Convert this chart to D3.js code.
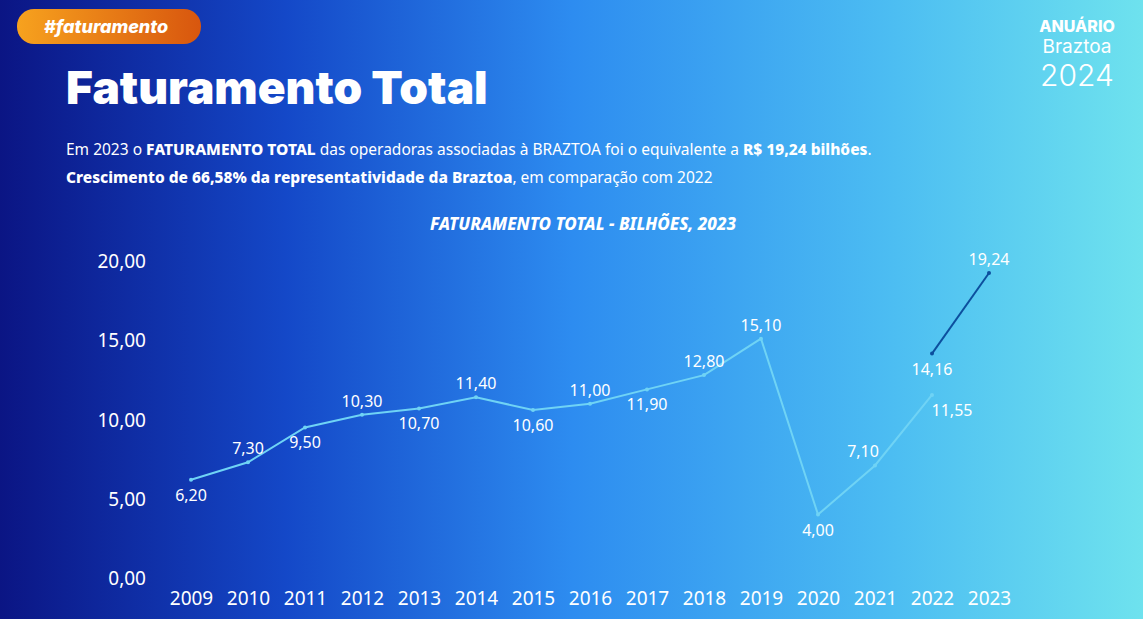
<!DOCTYPE html>
<html><head><meta charset="utf-8">
<script src="https://cdn.jsdelivr.net/npm/d3@7"></script>
<style>body{margin:0;overflow:hidden}svg{display:block}</style>
</head><body><svg id="c" width="1143" height="619"></svg>
<script>
const years = ["2009","2010","2011","2012","2013","2014","2015","2016","2017","2018","2019","2020","2021","2022","2023"];
const seriesA = [6.20,7.30,9.50,10.30,10.70,11.40,10.60,11.00,11.90,12.80,15.10,4.00,7.10,11.55];
const seriesAYears = years.slice(0,14);
const seriesB = [14.16,19.24];
const seriesBYears = ["2022","2023"];
const yTicks = [0,5,10,15,20];
const labelPosA = ["b","a","b","a","b","a","b","a","b","a","a","b","al","br"];
const labelPosB = ["b","a"];

const svg = d3.select("#c");
const defs = svg.append("defs");
const bg = defs.append("linearGradient").attr("id","bg").attr("x1","0").attr("x2","1").attr("y1","0").attr("y2","0");
bg.append("stop").attr("offset","0").attr("stop-color","#0b1584");
bg.append("stop").attr("offset","0.25").attr("stop-color","#1448c8");
bg.append("stop").attr("offset","0.5").attr("stop-color","#2d8cf0");
bg.append("stop").attr("offset","0.78").attr("stop-color","#4cbdf2");
bg.append("stop").attr("offset","1").attr("stop-color","#6ee2ee");
svg.append("rect").attr("width",1143).attr("height",619).attr("fill","url(#bg)");
const pg = defs.append("linearGradient").attr("id","pill").attr("x1","0").attr("x2","1");
pg.append("stop").attr("offset","0").attr("stop-color","#f7a21e");
pg.append("stop").attr("offset","1").attr("stop-color","#d8560e");
svg.append("rect").attr("x",17).attr("y",9).attr("width",184).attr("height",35).attr("rx",17).attr("fill","url(#pill)");
svg.append("text").attr("x",44).attr("y",33).attr("fill","#fff").attr("font-family","Inter").attr("font-weight",800)
  .attr("font-style","italic").attr("font-size",18).text("#faturamento");
svg.append("text").attr("x",66).attr("y",104).attr("fill","#fff").attr("font-family","Inter").attr("font-weight",900)
  .attr("font-size",46).text("Faturamento Total");
const t1 = svg.append("text").attr("x",66).attr("y",155).attr("fill","#fff").attr("font-family","Noto Sans").attr("font-size",15.5);
t1.append("tspan").text("Em 2023 o ");
t1.append("tspan").attr("font-weight",800).text("FATURAMENTO TOTAL");
t1.append("tspan").text(" das operadoras associadas à BRAZTOA foi o equivalente a ");
t1.append("tspan").attr("font-weight",800).text("R$ 19,24 bilhões");
t1.append("tspan").text(".");
const t2 = svg.append("text").attr("x",66).attr("y",183).attr("fill","#fff").attr("font-family","Noto Sans").attr("font-size",15.5);
t2.append("tspan").attr("font-weight",800).text("Crescimento de 66,58% da representatividade da Braztoa");
t2.append("tspan").text(", em comparação com 2022");
svg.append("text").attr("x",583).attr("y",230).attr("text-anchor","middle").attr("fill","#fff").attr("font-family","Noto Sans")
  .attr("font-weight",800).attr("font-style","italic").attr("font-size",17).text("FATURAMENTO TOTAL - BILHÕES, 2023");
// logo
svg.append("text").attr("x",1077).attr("y",32).attr("text-anchor","middle").attr("fill","#fff").attr("font-family","Inter").attr("font-weight",800).attr("font-size",16).text("ANUÁRIO");
svg.append("text").attr("x",1077).attr("y",53).attr("text-anchor","middle").attr("fill","#fff").attr("font-family","Inter").attr("font-size",19).text("Braztoa");
svg.append("text").attr("x",1077).attr("y",86).attr("text-anchor","middle").attr("fill","#fff").attr("font-family","Inter").attr("font-weight",300).attr("font-size",30).text("2024");

const x = d3.scalePoint().domain(years).range([191,989]);
const y = d3.scaleLinear().domain([0,20]).range([578,261]);
const fmt = v => d3.format(".2f")(v).replace(".",",");

const yAx = svg.append("g").attr("transform","translate(146,0)")
  .call(d3.axisLeft(y).tickValues(yTicks).tickSize(0).tickPadding(0).tickFormat(fmt));
yAx.select(".domain").remove();
yAx.selectAll("text").attr("fill","#fff").attr("font-family","Noto Sans").attr("font-size",19).attr("dy","0.35em");
const xAx = svg.append("g").attr("transform","translate(0,590)")
  .call(d3.axisBottom(x).tickSize(0).tickPadding(0));
xAx.select(".domain").remove();
xAx.selectAll("text").attr("fill","#fff").attr("font-family","Noto Sans").attr("font-size",19).attr("dy","0.8em");

const line = d3.line().x(d=>x(d[0])).y(d=>y(d[1]));
function draw(ys, vals, pos, color, width){
  const pts = ys.map((yr,i)=>[yr,vals[i]]);
  svg.append("path").datum(pts).attr("d",line).attr("fill","none").attr("stroke",color).attr("stroke-width",width);
  svg.selectAll(null).data(pts).enter().append("circle").attr("cx",d=>x(d[0])).attr("cy",d=>y(d[1])).attr("r",2).attr("fill",color);
  svg.selectAll(null).data(pts).enter().append("text")
    .attr("x",(d,i)=>x(d[0]) + (pos[i]==="al"?-12:pos[i]==="br"?20:0))
    .attr("y",(d,i)=>y(d[1]) + (pos[i].startsWith("a")?-8:21))
    .attr("text-anchor","middle").attr("fill","#fff").attr("font-family","Noto Sans").attr("font-size",16)
    .text(d=>fmt(d[1]));
}
draw(seriesAYears, seriesA, labelPosA, "#6fd3f5", 2);
draw(seriesBYears, seriesB, labelPosB, "#0c4f9e", 2);
</script></body></html>
